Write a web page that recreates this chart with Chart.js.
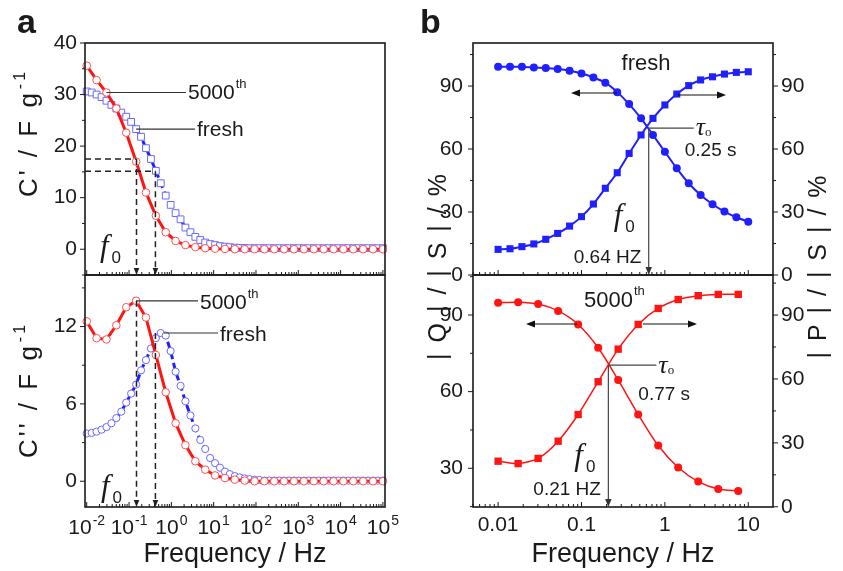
<!DOCTYPE html>
<html>
<head>
<meta charset="utf-8">
<script src="https://cdn.jsdelivr.net/npm/chart.js@4.4.1/dist/chart.umd.min.js"></script>
<style>
body { margin: 0; background: #fff; }
#wrap { position: relative; width: 843px; height: 571px; }
#wrap canvas { position: absolute; left: 0; top: 0; }
</style>
</head>
<body>
<div id="wrap">
<canvas id="a_top" width="843" height="571"></canvas>
<canvas id="a_bot" width="843" height="571"></canvas>
<canvas id="b_top" width="843" height="571"></canvas>
<canvas id="b_bot" width="843" height="571"></canvas>
</div>
<script>
// ---- panel a : C' and C'' against frequency ----
const aFreqRed = [0.01, 0.0171, 0.0293, 0.0501, 0.0858, 0.147, 0.251, 0.430, 0.736, 1.26, 2.15, 3.69, 6.31, 10.8, 18.5, 31.6,
  54.1, 92.6, 158, 271, 464, 794, 1359, 2326, 3981, 6813, 11659, 19953, 34146, 58434, 100000];
const aFreqBlue = [0.01, 0.0131, 0.0171, 0.0224, 0.0293, 0.0383, 0.0501, 0.0656, 0.0858, 0.112, 0.147, 0.192, 0.251, 0.329,
  0.430, 0.562, 0.736, 0.962, 1.26, 1.65, 2.15, 2.82, 3.69, 4.82, 6.31, 8.25, 10.8, 14.1, 18.5, 24.1, 31.6, 41.3, 54.1, 70.7,
  92.6, 121, 158, 207, 271, 354, 464, 606, 794, 1036, 1359, 1774, 2326, 3036, 3981, 5195, 6813, 8891, 11659, 15215, 19953,
  26036, 34146, 44554, 58434, 76243, 100000];
const aRedC1 = [35.6, 32.8, 30.4, 27.3, 22.6, 17.0, 11.0, 6.5, 3.3, 1.6, 0.8, 0.4, 0.2, 0.1, 0.05,
  0, 0, 0, 0, 0, 0, 0, 0, 0, 0, 0, 0, 0, 0, 0, 0];
const aBlueC1 = [30.6, 30.4, 30.0, 29.5, 28.8, 28.0, 27.3, 26.5, 25.7, 24.7, 23.3, 21.8, 19.6, 17.5, 15.2, 12.8, 10.4, 8.6,
  7.0, 5.8, 4.2, 3.3, 2.4, 1.8, 1.3, 1.0, 0.8, 0.6, 0.5, 0.4, 0.3, 0.25, 0.25, 0.2, 0.2, 0.2, 0.2, 0.2, 0.2, 0.2, 0.2,
  0.2, 0.2, 0.2, 0.2, 0.2, 0.2, 0.2, 0.2, 0.2, 0.2, 0.2, 0.2, 0.2, 0.2, 0.2, 0.2, 0.2, 0.2, 0.2, 0.2];
const aRedC2 = [12.4, 11.1, 11.0, 12.1, 13.5, 14.0, 12.7, 9.8, 6.9, 4.5, 2.8, 1.55, 0.9, 0.45, 0.25, 0.12, 0.05,
  0, 0, 0, 0, 0, 0, 0, 0, 0, 0, 0, 0, 0, 0];
const aBlueC2 = [3.7, 3.75, 3.85, 4.0, 4.2, 4.5, 4.9, 5.4, 6.1, 6.8, 7.5, 8.6, 9.4, 10.3, 11.1, 11.5, 11.3, 10.1, 8.5, 7.4,
  6.2, 5.1, 4.1, 3.2, 2.5, 1.8, 1.4, 1.05, 0.75, 0.55, 0.4, 0.3, 0.22, 0.16, 0.12, 0.1, 0.05, 0.05, 0.05, 0.05, 0.05,
  0.05, 0.05, 0.05, 0.05, 0.05, 0.05, 0.05, 0.05, 0.05, 0.05, 0.05, 0.05, 0.05, 0.05, 0.05, 0.05, 0.05, 0.05, 0.05, 0.05];
const aExps = [-2, -1, 0, 1, 2, 3, 4, 5];
const aTopYTicks = [0, 10, 20, 30, 40];
const aBotYTicks = [0, 6, 12];
const aF0 = [0.15, 0.42];          // 5000th, fresh
const aF0C1 = [17.5, 15.1];
const aF0C2 = [14.0, 11.5];

// ---- panel b : |Q|/|S| (circles) and |P|/|S| (squares) ----
const bFreqFresh = [0.01, 0.01389, 0.01931, 0.02683, 0.03728, 0.05179, 0.07197, 0.1, 0.1389, 0.1931, 0.2683, 0.3728,
  0.5179, 0.7197, 1, 1.389, 1.931, 2.683, 3.728, 5.179, 7.197, 10];
const bFreshQ = [99.2, 99.2, 99.2, 98.8, 98.6, 98.1, 97.3, 96.0, 94.1, 91.6, 87.1, 81.4, 74.6, 66.7, 58.7, 50.8, 43.7,
  38.1, 33.7, 30.2, 27.5, 25.4];
const bFreshP = [12.2, 12.5, 13.5, 14.8, 17.0, 19.8, 23.3, 27.8, 33.8, 41.3, 48.7, 57.9, 66.7, 74.6, 81.0, 86.2, 90.2,
  92.9, 94.4, 95.7, 96.5, 96.8];
const bFreq5000 = [0.01, 0.01738, 0.0302, 0.0525, 0.0912, 0.1585, 0.2754, 0.4786, 0.8318, 1.445, 2.512, 4.365, 7.586];
const b5000Q = [94.8, 95.0, 94.3, 91.6, 86.3, 77.2, 64.6, 51.1, 38.9, 30.3, 24.8, 21.9, 21.1];
const b5000P = [21.4, 20.3, 22.7, 30.8, 43.3, 58.7, 74.0, 85.6, 93.1, 97.3, 99.1, 99.7, 99.7];
const bXTicks = [0.01, 0.1, 1, 10];
const bXLabels = ['0.01', '0.1', '1', '10'];
const bTopYTicks = [0, 30, 60, 90];
const bBotQTicks = [30, 60, 90];
const bBotPTicks = [0, 30, 60, 90];
const bF0 = [0.64, 0.21];
const bCross = [70, 70.4];

const SANS_NAME = 'Liberation Sans';
const SANS = '"Liberation Sans", Arial, sans-serif';
const SERIF = '"Liberation Serif", "Times New Roman", serif';
const INK = '#1a1a1a';
const RED = '#ff1414';
const RED_PT = '#ff5050';
const BLUE = '#2020ff';
const BLUE_PT = '#6a6aff';
const TICK_SIZE = 21;

const pairs = (xs, ys) => xs.map((v, i) => ({x: v, y: ys[i]}));

function decadeTicks(min, max) {
  const out = [];
  for (let e = Math.floor(Math.log10(min)); e <= Math.ceil(Math.log10(max)); e++) {
    for (let m = 1; m <= 9; m++) {
      const v = m * Math.pow(10, e);
      if (v >= min * 0.999 && v <= max * 1.001) out.push({value: v, major: m === 1});
    }
  }
  return out;
}

function logX(min, max, h, cb, title) {
  return {
    type: 'logarithmic', position: 'bottom', min: min, max: max,
    afterBuildTicks: s => { s.ticks = decadeTicks(min, max); },
    afterFit: s => { s.height = h; },
    grid: {display: false, drawTicks: false}, border: {display: false},
    ticks: {autoSkip: false, maxRotation: 0, minRotation: 0, padding: 6, color: INK,
      font: {family: SANS_NAME, size: TICK_SIZE}, callback: cb},
    title: title ? {display: true, text: title, color: INK, font: {family: SANS_NAME, size: 27},
      padding: {top: 0, bottom: 0}} : {display: false}
  };
}

function linY(min, max, vals, w, pos, pad) {
  return {
    type: 'linear', position: pos, min: min, max: max,
    afterBuildTicks: s => { s.ticks = vals.map(v => ({value: v})); },
    afterFit: s => { s.width = w; },
    grid: {display: false, drawTicks: false}, border: {display: false},
    ticks: {padding: pad, color: INK, font: {family: SANS_NAME, size: TICK_SIZE}}
  };
}

function baseOpts(pad, scales) {
  return {
    responsive: false, animation: false, devicePixelRatio: 1, events: [],
    layout: {padding: pad, autoPadding: false},
    plugins: {legend: {display: false}, tooltip: {enabled: false}},
    scales: scales
  };
}

// frame round the plot and the small tick marks (in or out)
function frameTicks(axes) {
  return {
    id: 'frameTicks',
    afterDraw(chart) {
      const ctx = chart.ctx, a = chart.chartArea;
      ctx.save();
      ctx.strokeStyle = INK;
      ctx.lineWidth = 1;
      ctx.beginPath();
      axes.forEach(cfg => {
        const s = chart.scales[cfg.id];
        let marks = [];
        if (s.type === 'logarithmic') {
          marks = decadeTicks(s.min, s.max);
        } else {
          for (let v = Math.ceil(s.min / cfg.minor) * cfg.minor; v <= s.max + 1e-9; v += cfg.minor) {
            marks.push({value: v, major: s.ticks.some(t => Math.abs(t.value - v) < 1e-9)});
          }
        }
        const sign = cfg.dir === 'in' ? 1 : -1;
        marks.forEach(t => {
          const p = s.getPixelForValue(t.value);
          const len = t.major ? 5 : 3;
          if (s.position === 'bottom') { ctx.moveTo(p, a.bottom); ctx.lineTo(p, a.bottom - sign * len); }
          else if (s.position === 'left') { ctx.moveTo(a.left, p); ctx.lineTo(a.left + sign * len, p); }
          else { ctx.moveTo(a.right, p); ctx.lineTo(a.right - sign * len, p); }
        });
      });
      ctx.stroke();
      ctx.lineWidth = 1.6;
      ctx.strokeRect(a.left, a.top, a.right - a.left, a.bottom - a.top);
      ctx.restore();
    }
  };
}

function line(ctx, x1, y1, x2, y2) {
  ctx.beginPath(); ctx.moveTo(x1, y1); ctx.lineTo(x2, y2); ctx.stroke();
}
function arrowHead(ctx, x, y, dx, dy, size) {
  const px = -dy, py = dx;
  ctx.beginPath();
  ctx.moveTo(x, y);
  ctx.lineTo(x - dx * size + px * size * 0.4, y - dy * size + py * size * 0.4);
  ctx.lineTo(x - dx * size - px * size * 0.4, y - dy * size - py * size * 0.4);
  ctx.closePath();
  ctx.fill();
}
function arrow(ctx, x1, y1, x2, y2) {
  const d = Math.hypot(x2 - x1, y2 - y1), dx = (x2 - x1) / d, dy = (y2 - y1) / d;
  line(ctx, x1, y1, x2 - dx * 6, y2 - dy * 6);
  arrowHead(ctx, x2, y2, dx, dy, 9);
}
function supText(ctx, x, y, base, sup, size, supSize, rise) {
  ctx.font = size + 'px ' + SANS;
  ctx.fillText(base, x, y);
  const w = ctx.measureText(base).width;
  if (!sup) return w;
  ctx.font = supSize + 'px ' + SANS;
  ctx.fillText(sup, x + w + 1, y - rise);
  return w + 1 + ctx.measureText(sup).width;
}
function fSub(ctx, x, y, size) {
  ctx.font = 'italic ' + size + 'px ' + SERIF;
  ctx.fillText('f', x, y);
  const w = ctx.measureText('f').width;
  ctx.font = Math.round(size * 0.55) + 'px ' + SANS;
  ctx.fillText('0', x + w + 3, y + size * 0.22);
}
function tauSub(ctx, x, y) {
  ctx.font = 'italic 26px ' + SERIF;
  ctx.fillText('\u03c4', x, y);
  const w = ctx.measureText('\u03c4').width;
  ctx.font = '13px ' + SERIF;
  ctx.fillText('o', x + w, y + 1);
}
function vTitle(ctx, cx, cy, base, sup, size, spacing) {
  ctx.save();
  ctx.translate(cx, cy);
  ctx.rotate(-Math.PI / 2);
  ctx.letterSpacing = spacing + 'px';
  ctx.font = size + 'px ' + SANS;
  const w1 = ctx.measureText(base).width;
  ctx.font = '16px ' + SANS;
  const w2 = sup ? ctx.measureText(sup).width + 1 : 0;
  supText(ctx, -(w1 + w2) / 2, size * 0.36, base, sup, size, 16, 12);
  ctx.restore();
}
function f0Marks(ctx, a, x, y, levels, horiz) {
  ctx.save();
  ctx.strokeStyle = '#222';
  ctx.fillStyle = '#222';
  ctx.lineWidth = 1.5;
  aF0.forEach((f, i) => {
    const xf = x.getPixelForValue(f), yf = y.getPixelForValue(levels[i]);
    ctx.setLineDash([6, 4]);
    if (horiz) line(ctx, a.left, yf, xf, yf);
    line(ctx, xf, yf, xf, a.bottom - 6);
    ctx.setLineDash([]);
    arrowHead(ctx, xf, a.bottom, 0, 1, 7);
  });
  ctx.restore();
}
function startText(ctx) {
  ctx.save();
  ctx.textAlign = 'left';
  ctx.textBaseline = 'alphabetic';
  ctx.fillStyle = INK;
  ctx.strokeStyle = '#333';
  ctx.lineWidth = 1.2;
}

const aTopNotes = {
  id: 'aTopNotes',
  afterDraw(chart) {
    const {ctx, chartArea: a, scales: {x, y}} = chart;
    startText(ctx);
    ctx.font = 'bold 34px ' + SANS;
    ctx.fillText('a', 17, 33);
    let px = x.getPixelForValue(aFreqRed[2]), py = y.getPixelForValue(aRedC1[2]);
    line(ctx, px, py, 186, py);
    supText(ctx, 188, py + 7, '5000', 'th', 21, 13, 11);
    px = x.getPixelForValue(aFreqBlue[10]); py = y.getPixelForValue(aBlueC1[10]);
    line(ctx, px, py, 195, py);
    ctx.font = '21px ' + SANS;
    ctx.fillText('fresh', 197, py + 7);
    f0Marks(ctx, a, x, y, aF0C1, true);
    fSub(ctx, 100, 256, 31);
    vTitle(ctx, 28, 133, "C' / F g", '-1', 26, 3);
    ctx.restore();
  }
};

const aBotNotes = {
  id: 'aBotNotes',
  afterDraw(chart) {
    const {ctx, chartArea: a, scales: {x, y}} = chart;
    startText(ctx);
    let px = x.getPixelForValue(aFreqRed[5]), py = y.getPixelForValue(aRedC2[5]);
    line(ctx, px, py, 198, py);
    supText(ctx, 200, py + 8, '5000', 'th', 21, 13, 11);
    px = x.getPixelForValue(aFreqBlue[15]); py = y.getPixelForValue(aBlueC2[15]);
    line(ctx, px + 3, py, 218, py);
    ctx.font = '21px ' + SANS;
    ctx.fillText('fresh', 220, py + 8);
    f0Marks(ctx, a, x, y, aF0C2, false);
    fSub(ctx, 101, 496, 31);
    vTitle(ctx, 28, 390, "C'' / F g", '-1', 26, 3);
    // power-of-ten tick labels
    aExps.forEach(e => {
      const xp = x.getPixelForValue(Math.pow(10, e));
      ctx.font = TICK_SIZE + 'px ' + SANS;
      const w1 = ctx.measureText('10').width;
      ctx.font = '14px ' + SANS;
      const w2 = ctx.measureText(String(e)).width;
      supText(ctx, xp - (w1 + 1 + w2) / 2, 534, '10', String(e), TICK_SIZE, 14, 9);
    });
    ctx.restore();
  }
};

const bTopNotes = {
  id: 'bTopNotes',
  afterDraw(chart) {
    const {ctx, chartArea: a, scales: {x, yq}} = chart;
    startText(ctx);
    const cx = x.getPixelForValue(bF0[0]), cy = yq.getPixelForValue(bCross[0]);
    ctx.font = '22px ' + SANS;
    ctx.textAlign = 'center';
    ctx.fillText('fresh', 646, 70);
    ctx.textAlign = 'left';
    ctx.fillStyle = '#111';
    ctx.strokeStyle = '#111';
    arrow(ctx, 617, 93, 571, 93);
    arrow(ctx, 678, 95, 726, 95);
    ctx.strokeStyle = '#444';
    ctx.fillStyle = '#333';
    line(ctx, cx, cy, cx + 45, cy);
    line(ctx, cx, cy, cx, a.bottom - 7);
    arrowHead(ctx, cx, a.bottom, 0, 1, 8);
    ctx.fillStyle = INK;
    tauSub(ctx, cx + 47, cy + 7);
    ctx.font = '19px ' + SANS;
    ctx.fillText('0.25 s', cx + 36, cy + 28);
    fSub(ctx, cx - 35, cy + 97, 31);
    ctx.font = '19px ' + SANS;
    ctx.fillText('0.64 HZ', cx - 75, cy + 135);
    ctx.restore();
  }
};

const bBotNotes = {
  id: 'bBotNotes',
  afterDraw(chart) {
    const {ctx, chartArea: a, scales: {x, yq}} = chart;
    startText(ctx);
    ctx.font = 'bold 34px ' + SANS;
    ctx.fillText('b', 420, 33);
    vTitle(ctx, 437, 266, '| Q | / | S | / %', '', 25, 2);
    vTitle(ctx, 817, 266, '| P | / | S | / %', '', 25, 2);
    const cx = x.getPixelForValue(bF0[1]), cy = yq.getPixelForValue(bCross[1]);
    supText(ctx, 584, 307, '5000', 'th', 22, 13, 12);
    ctx.fillStyle = '#111';
    ctx.strokeStyle = '#111';
    arrow(ctx, 577, 324, 526, 324);
    arrow(ctx, 643, 324, 697, 324);
    ctx.strokeStyle = '#444';
    ctx.fillStyle = '#333';
    line(ctx, cx, cy, cx + 48, cy);
    line(ctx, cx, cy, cx, a.bottom - 7);
    arrowHead(ctx, cx, a.bottom, 0, 1, 8);
    ctx.fillStyle = INK;
    tauSub(ctx, cx + 50, cy + 8);
    ctx.font = '19px ' + SANS;
    ctx.fillText('0.77 s', cx + 30, cy + 35);
    fSub(ctx, cx - 34, cy + 100, 31);
    ctx.font = '19px ' + SANS;
    ctx.fillText('0.21 HZ', cx - 75, cy + 130);
    ctx.restore();
  }
};

function openSet(xs, ys, color, ptColor, style, radius, dash) {
  return {
    data: pairs(xs, ys), borderColor: color, borderWidth: 3, borderDash: dash, tension: 0, clip: false,
    pointStyle: style, pointRadius: radius, pointBorderWidth: 1,
    pointBorderColor: ptColor, pointBackgroundColor: '#fff'
  };
}
function fullSet(xs, ys, color, style, radius, axis, width) {
  return {
    data: pairs(xs, ys), yAxisID: axis, borderColor: color, borderWidth: width, tension: 0.25, clip: false,
    pointStyle: style, pointRadius: radius, pointBorderWidth: 0, pointBackgroundColor: color
  };
}

const aMin = 0.0091, aMax = 112000;
const bMin = 0.005, bMax = 19.8;

new Chart(document.getElementById('a_top'), {
  type: 'line',
  data: {datasets: [
    openSet(aFreqRed, aRedC1, RED, RED_PT, 'circle', 3.8, []),
    openSet(aFreqBlue, aBlueC1, BLUE, BLUE_PT, 'rect', 4.8, [7, 4])
  ]},
  options: baseOpts({left: 0, top: 43, right: 458, bottom: 296}, {
    x: logX(aMin, aMax, 0, () => ''),
    y: linY(-5, 40, aTopYTicks, 85, 'left', 8)
  }),
  plugins: [frameTicks([{id: 'x', dir: 'in'}, {id: 'y', dir: 'out', minor: 5}]), aTopNotes]
});

new Chart(document.getElementById('a_bot'), {
  type: 'line',
  data: {datasets: [
    openSet(aFreqRed, aRedC2, RED, RED_PT, 'circle', 3.8, []),
    openSet(aFreqBlue, aBlueC2, BLUE, BLUE_PT, 'circle', 3.6, [7, 4])
  ]},
  options: baseOpts({left: 0, top: 275, right: 458, bottom: 0}, {
    x: logX(aMin, aMax, 64, () => '', 'Frequency / Hz'),
    y: linY(-2, 16, aBotYTicks, 85, 'left', 8)
  }),
  plugins: [frameTicks([{id: 'x', dir: 'in'}, {id: 'y', dir: 'out', minor: 3}]), aBotNotes]
});

new Chart(document.getElementById('b_top'), {
  type: 'line',
  data: {datasets: [
    fullSet(bFreqFresh, bFreshQ, BLUE, 'circle', 4, 'yq', 2),
    fullSet(bFreqFresh, bFreshP, BLUE, 'rect', 5, 'yp', 2)
  ]},
  options: baseOpts({left: 423, top: 43, right: 20, bottom: 296}, {
    x: logX(bMin, bMax, 0, () => ''),
    yq: linY(0, 110.5, bTopYTicks, 50, 'left', 10),
    yp: linY(0, 110.5, bTopYTicks, 50, 'right', 8)
  }),
  plugins: [frameTicks([{id: 'x', dir: 'in'}, {id: 'yq', dir: 'out', minor: 15}, {id: 'yp', dir: 'out', minor: 15}]), bTopNotes]
});

new Chart(document.getElementById('b_bot'), {
  type: 'line',
  data: {datasets: [
    fullSet(bFreq5000, b5000Q, RED, 'circle', 4, 'yq', 1.5),
    fullSet(bFreq5000, b5000P, RED, 'rect', 5.2, 'yp', 1.5)
  ]},
  options: baseOpts({left: 423, top: 275, right: 20, bottom: 0}, {
    x: logX(bMin, bMax, 64, v => {
      const i = bXTicks.findIndex(t => Math.abs(t - v) / t < 1e-6);
      return i >= 0 ? bXLabels[i] : '';
    }, 'Frequency / Hz'),
    yq: linY(14.85, 105.65, bBotQTicks, 50, 'left', 10),
    yp: linY(-0.1, 108.8, bBotPTicks, 50, 'right', 8)
  }),
  plugins: [frameTicks([{id: 'x', dir: 'in'}, {id: 'yq', dir: 'out', minor: 15}, {id: 'yp', dir: 'out', minor: 15}]), bBotNotes]
});
</script>
</body>
</html>
